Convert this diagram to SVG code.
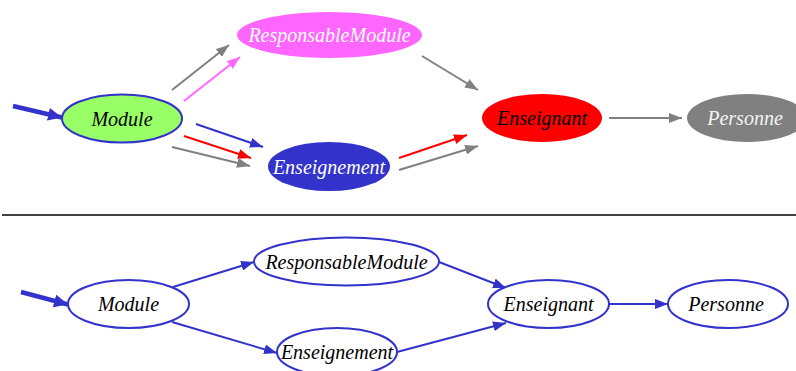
<svg xmlns="http://www.w3.org/2000/svg" width="796" height="371" viewBox="0 0 796 371">
<style>
text{font-family:"Liberation Serif","Times New Roman",serif;font-style:italic;font-size:20px;text-anchor:middle}
.e{stroke-width:2;fill:none}
.b{stroke:#3333cc}.g{stroke:#808080}.r{stroke:#ff0000}.p{stroke:#ff66ff}
.n{stroke:#3333cc;stroke-width:2;fill:#fff}
</style>
<defs>
<marker id="mb" markerUnits="userSpaceOnUse" markerWidth="13" markerHeight="10" refX="13" refY="5" orient="auto"><path d="M0,0L13,5L0,10z" fill="#3333cc"/></marker>
<marker id="mg" markerUnits="userSpaceOnUse" markerWidth="13" markerHeight="10" refX="13" refY="5" orient="auto"><path d="M0,0L13,5L0,10z" fill="#808080"/></marker>
<marker id="mr" markerUnits="userSpaceOnUse" markerWidth="13" markerHeight="10" refX="13" refY="5" orient="auto"><path d="M0,0L13,5L0,10z" fill="#ff0000"/></marker>
<marker id="mp" markerUnits="userSpaceOnUse" markerWidth="13" markerHeight="10" refX="13" refY="5" orient="auto"><path d="M0,0L13,5L0,10z" fill="#ff66ff"/></marker>
<marker id="mB" markerUnits="userSpaceOnUse" markerWidth="14" markerHeight="13" refX="14" refY="6.5" orient="auto"><path d="M0,0L14,6.5L0,13z" fill="#3333cc"/></marker>
</defs>
<rect width="796" height="371" fill="#fff"/>
<g id="connectors">
<line x1="13" y1="106" x2="62" y2="117.5" stroke="#3333cc" stroke-width="4.5" marker-end="url(#mB)"/>
<line class="e g" x1="172" y1="90" x2="229" y2="45" marker-end="url(#mg)"/>
<line class="e p" x1="184" y1="101" x2="240" y2="57" marker-end="url(#mp)"/>
<line class="e b" x1="196" y1="124" x2="263" y2="147" marker-end="url(#mb)"/>
<line class="e r" x1="184" y1="136" x2="251" y2="158" marker-end="url(#mr)"/>
<line class="e g" x1="172" y1="147" x2="250" y2="166" marker-end="url(#mg)"/>
<line class="e g" x1="422" y1="56" x2="478" y2="90" marker-end="url(#mg)"/>
<line class="e r" x1="399" y1="158" x2="467" y2="135" marker-end="url(#mr)"/>
<line class="e g" x1="399" y1="170" x2="478" y2="146" marker-end="url(#mg)"/>
<line class="e g" x1="609" y1="118" x2="682" y2="118" marker-end="url(#mg)"/>
<line x1="2" y1="215" x2="796" y2="215" stroke="#000" stroke-width="1.5"/>
<line x1="21" y1="292" x2="68" y2="304.5" stroke="#3333cc" stroke-width="4.5" marker-end="url(#mB)"/>
<line class="e b" x1="173" y1="287" x2="254" y2="262" marker-end="url(#mb)"/>
<line class="e b" x1="172" y1="322" x2="277" y2="353" marker-end="url(#mb)"/>
<line class="e b" x1="439" y1="262" x2="506" y2="288" marker-end="url(#mb)"/>
<line class="e b" x1="397" y1="352" x2="506" y2="323" marker-end="url(#mb)"/>
<line class="e b" x1="609" y1="304" x2="668" y2="304" marker-end="url(#mb)"/>
</g>
<g id="top-module"><ellipse cx="122" cy="118.5" rx="60" ry="24" fill="#99ff66" stroke="#3333cc" stroke-width="2"/><text x="122" y="125.5" fill="#000">Module</text></g>
<g id="top-responsable"><ellipse cx="329.5" cy="35" rx="92.5" ry="23" fill="#ff66ff"/><text x="329.5" y="42" fill="#fff">ResponsableModule</text></g>
<g id="top-enseignement"><ellipse cx="329" cy="166.5" rx="61" ry="24.5" fill="#3333cc"/><text x="329" y="173.5" fill="#fff">Enseignement</text></g>
<g id="top-enseignant"><ellipse cx="542" cy="118" rx="60" ry="24" fill="#ff0000"/><text x="542" y="125" fill="#000">Enseignant</text></g>
<g id="top-personne"><ellipse cx="747" cy="118" rx="60" ry="24" fill="#808080"/><text x="745" y="125" fill="#f4f4f4">Personne</text></g>
<g id="bot-module"><ellipse class="n" cx="128.5" cy="304" rx="60.5" ry="24"/><text x="128.5" y="311">Module</text></g>
<g id="bot-responsable"><ellipse class="n" cx="346.5" cy="261.5" rx="92.5" ry="24"/><text x="346.5" y="268.5">ResponsableModule</text></g>
<g id="bot-enseignement"><ellipse class="n" cx="337" cy="352" rx="60" ry="24"/><text x="337" y="359">Enseignement</text></g>
<g id="bot-enseignant"><ellipse class="n" cx="548.5" cy="304" rx="60.5" ry="24"/><text x="548.5" y="311">Enseignant</text></g>
<g id="bot-personne"><ellipse class="n" cx="728" cy="304" rx="60" ry="24"/><text x="726" y="311">Personne</text></g>
</svg>
